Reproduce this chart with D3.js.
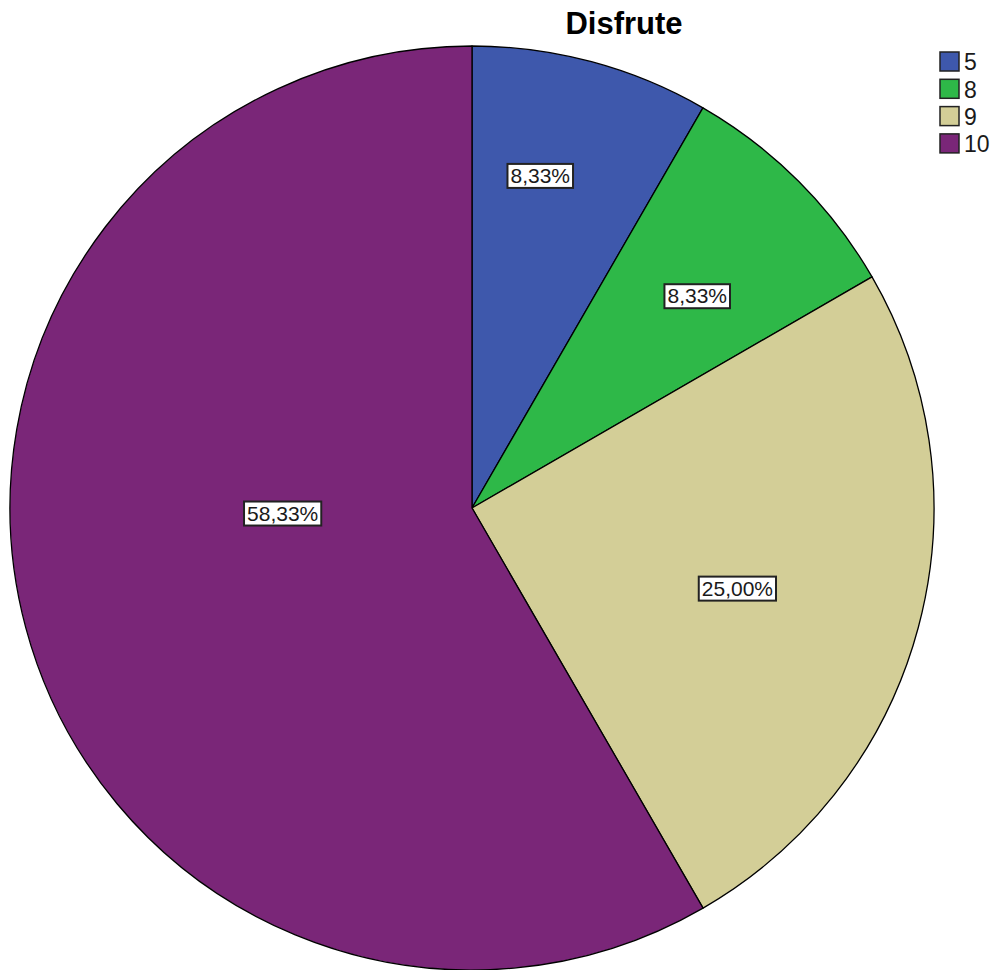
<!DOCTYPE html>
<head>
  <meta charset="utf-8">
  <script src="https://cdnjs.cloudflare.com/ajax/libs/d3/7.8.5/d3.min.js"></script>
  <style>
    body { margin:0; background:#fff; }
    svg { display:block; }
  </style>
</head>
<body>
  <script>
    var categories = ["5", "8", "9", "10"];
    var percents = [8.33, 8.33, 25.00, 58.33];
    var labels = ["8,33%", "8,33%", "25,00%", "58,33%"];
    var colors = ["#3e58ac", "#2eb848", "#d3ce97", "#7a2678"];
    // where each label sits: fraction of radius, and angle nudge in degrees
    var labelRadius = [0.735, 0.67, 0.60, 0.41];
    var labelNudge = [-3.4, 1.7, 1.8, 13.5];

    var width = 994, height = 970;
    var cx = 472, cy = 508, r = 462;
    var font = "Liberation Sans, Arial, sans-serif";

    var svg = d3.select("body").append("svg")
      .attr("width", width)
      .attr("height", height);

    svg.append("text")
      .attr("x", 624).attr("y", 34)
      .attr("text-anchor", "middle")
      .style("font-family", font)
      .style("font-weight", "bold")
      .style("font-size", "31px")
      .text("Disfrute");

    var data = categories.map(function(c, i) { return {cat: c, value: percents[i], label: labels[i], i: i}; });

    var pie = d3.pie().sort(null).value(function(d) { return d.value; });
    var arc = d3.arc().innerRadius(0).outerRadius(r);
    var arcs = pie(data);

    var g = svg.append("g").attr("transform", "translate(" + cx + "," + cy + ")");

    g.selectAll("path").data(arcs).enter().append("path")
      .attr("d", arc)
      .attr("fill", function(d) { return colors[d.data.i]; })
      .attr("stroke", "#000")
      .attr("stroke-width", 1.3)
      .attr("stroke-linejoin", "round");

    var lab = g.selectAll("g.lab").data(arcs).enter().append("g").attr("class", "lab")
      .attr("transform", function(d) {
        var a = (d.startAngle + d.endAngle) / 2 + labelNudge[d.data.i] * Math.PI / 180;
        var rr = r * labelRadius[d.data.i];
        return "translate(" + (Math.sin(a) * rr) + "," + (-Math.cos(a) * rr) + ")";
      });

    lab.append("text")
      .attr("text-anchor", "middle")
      .attr("dy", "0.36em")
      .style("font-family", font)
      .style("font-size", "21px")
      .attr("fill", "#1a1a1a")
      .text(function(d) { return d.data.label; });

    lab.each(function() {
      var sel = d3.select(this);
      var b = sel.select("text").node().getBBox();
      sel.insert("rect", "text")
        .attr("x", b.x - 3).attr("y", b.y)
        .attr("width", b.width + 6).attr("height", b.height + 1)
        .attr("fill", "#fff")
        .attr("stroke", "#222")
        .attr("stroke-width", 2);
    });

    var legend = svg.append("g").attr("transform", "translate(940,52)");
    var item = legend.selectAll("g").data(categories).enter().append("g")
      .attr("transform", function(d, i) { return "translate(0," + (i * 27.3) + ")"; });
    item.append("rect")
      .attr("width", 19).attr("height", 19)
      .attr("fill", function(d, i) { return colors[i]; })
      .attr("stroke", "#222").attr("stroke-width", 1.5);
    item.append("text")
      .attr("x", 24).attr("y", 10)
      .attr("dy", "0.36em")
      .style("font-family", font)
      .style("font-size", "23px")
      .attr("fill", "#1a1a1a")
      .text(function(d) { return d; });
  </script>
</body>
